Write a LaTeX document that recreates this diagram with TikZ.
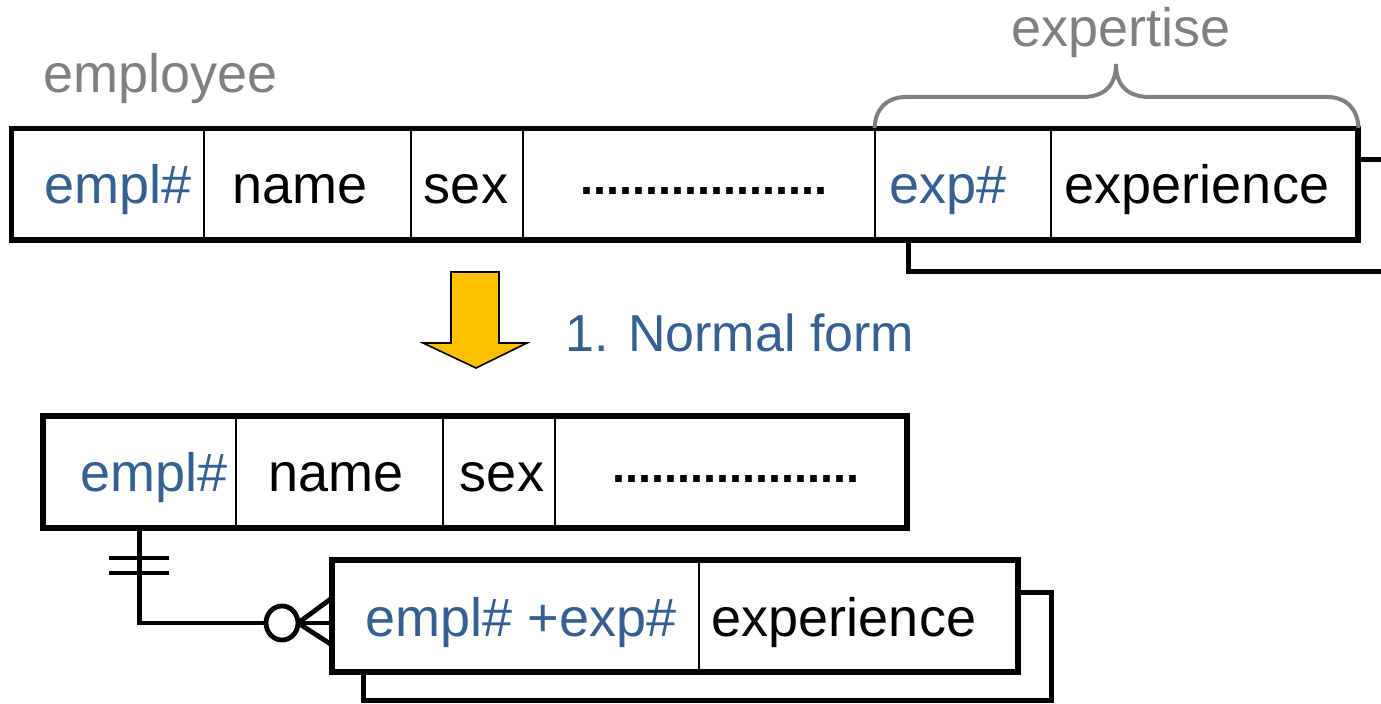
\documentclass[tikz,border=0pt]{standalone}
\usepackage{fontspec}
\setmainfont{Liberation Sans}
\usetikzlibrary{fit}
\definecolor{keyblue}{RGB}{55,96,146}
\definecolor{labelgray}{RGB}{128,128,128}
\definecolor{arrowyellow}{RGB}{255,192,0}
\begin{document}
\begin{tikzpicture}[x=0.5pt,y=-0.5pt,
  txt/.style={inner sep=0pt, anchor=base, font=\fontsize{27}{32}\selectfont},
  keytxt/.style={txt, text=keyblue},
  lbl/.style={txt, text=labelgray},
  dots/.style={inner sep=0pt, anchor=base, font=\fontsize{23.4}{28}\selectfont\bfseries},
  tablebox/.style={draw, line width=2.75pt, inner sep=0pt},
  cell/.style={inner sep=0pt},
  divider/.style={line width=1pt},
  shadowline/.style={line width=2.5pt},
  erline/.style={line width=2.4pt},
  bracestyle/.style={draw=labelgray, line width=2pt}]
\useasboundingbox (0,0) rectangle (1381,704);
\clip (0,0) rectangle (1381,704);

% ---------- top table (employee) ----------
\draw[shadowline] (1358,160) -- (1395,160);
\draw[shadowline] (908,240) |- (1395,272);
\node[tablebox, fill=white, fit={(11.5,128.5) (1358,240)}] (T1) {};
\node[cell, fit={(11.5,128.5) (204,240)}] (t1a) {};
\node[cell, fit={(204,128.5) (411,240)}] (t1b) {};
\node[cell, fit={(411,128.5) (523,240)}] (t1c) {};
\node[cell, fit={(523,128.5) (875,240)}] (t1d) {};
\node[cell, fit={(875,128.5) (1051,240)}] (t1e) {};
\node[cell, fit={(1051,128.5) (1358,240)}] (t1f) {};
\foreach \c in {t1a,t1b,t1c,t1d,t1e}
  \draw[divider] (\c.north east) -- (\c.south east);
\node[keytxt] (t1aT) at (118,204) {empl\#};
\node[txt] (t1bT) at (300,204) {name};
\node[txt] (t1cT) at (466,204) {sex};
\node[dots] (t1dT) at (704,195) {...................};
\node[keytxt] (t1eT) at (948,204) {exp\#};
\node[txt] (t1fT) at (1197,204) {experience};

\node[lbl, anchor=base west] (emp) at (43,93) {employee};
\node[lbl] (expt) at (1121,47) {expertise};
\draw[bracestyle] (t1e.north west) .. controls (875,110) and (886,97) .. (906,97) -- (1082,97)
  .. controls (1104,97) and (1116,86) .. (1116,64) .. controls (1116,86) and (1128,97) .. (1150,97)
  -- (1327,97) .. controls (1347,97) and (1358,110) .. (t1f.north east);

% ---------- arrow ----------
\draw[fill=arrowyellow, line width=0.8pt, line join=miter]
  (451,272) -- (499,272) -- (499,343) -- (527,343) -- (476,368) -- (423,343) -- (451,343) -- cycle;
\node[keytxt, anchor=base west, font=\fontsize{26}{31}\selectfont] (nf) at (565,352) {1. Normal form};

% ---------- bottom table (employee) ----------
\node[tablebox, fit={(43,416) (907,528)}] (T2) {};
\node[cell, fit={(43,416) (236,528)}] (t2a) {};
\node[cell, fit={(236,416) (443,528)}] (t2b) {};
\node[cell, fit={(443,416) (555,528)}] (t2c) {};
\node[cell, fit={(555,416) (907,528)}] (t2d) {};
\foreach \c in {t2a,t2b,t2c}
  \draw[divider] (\c.north east) -- (\c.south east);
\node[keytxt] (t2aT) at (154,492) {empl\#};
\node[txt] (t2bT) at (336,492) {name};
\node[txt] (t2cT) at (502,492) {sex};
\node[dots] (t2dT) at (736,483) {...................};

% ---------- bottom table (expertise) ----------
\draw[shadowline] (1018,593) -- (1051,593) -- (1051,701) -- (363,701) -- (363,672);
\node[tablebox, fill=white, fit={(332,560) (1018,672)}] (T3) {};
\node[cell, fit={(332,560) (699,672)}] (t3a) {};
\node[cell, fit={(699,560) (1018,672)}] (t3b) {};
\draw[divider] (t3a.north east) -- (t3a.south east);
\node[keytxt] (t3aT) at (521,637) {empl\# +exp\#};
\node[txt] (t3bT) at (844,637) {experience};

% ---------- relationship ----------
\coordinate (crow) at (332,623);
\draw[erline] (t2a.south) |- (crow);
\draw[erline] (109,558) -- (169,558);
\draw[erline] (109,573) -- (169,573);
\draw[erline, fill=white] (282,623) ellipse [x radius=8pt, y radius=8.5pt];
\draw[erline] (298,623) -- (332,598);
\draw[erline] (298,623) -- (332,645);
\end{tikzpicture}
\end{document}
